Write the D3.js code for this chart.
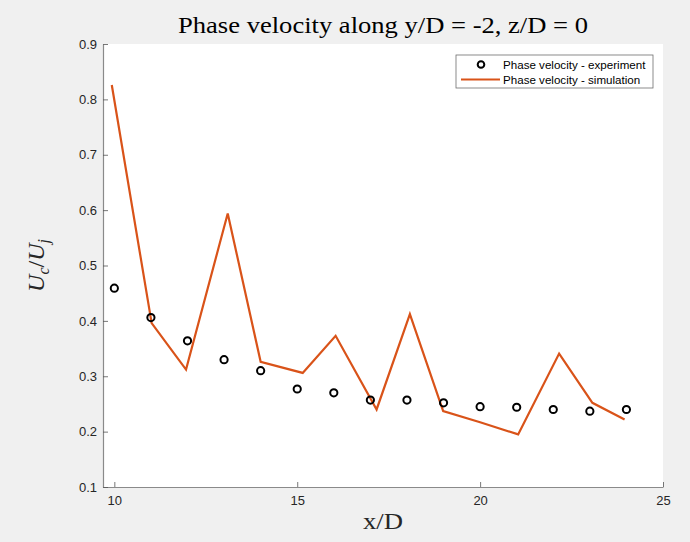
<!DOCTYPE html>
<html>
<head>
<meta charset="utf-8">
<script src="https://cdn.jsdelivr.net/npm/d3@7"></script>
<style>
  html, body { margin: 0; padding: 0; background: #f0f0f0; }
  svg { display: block; }
</style>
</head>
<body>
<svg id="chart" width="690" height="542"></svg>
<script>
// Measured phase velocity (x/D stations)
const expX = [10, 11, 12, 13, 14, 15, 16, 17, 18, 19, 20, 21, 22, 23, 24];
const expU = [0.459, 0.406, 0.364, 0.330, 0.310, 0.277, 0.270, 0.257, 0.257, 0.252, 0.245, 0.244, 0.240, 0.237, 0.240];

// Simulated phase velocity
const simX = [9.93, 11.02, 11.96, 13.10, 14.0, 15.15, 16.05, 17.17, 18.08, 18.99, 20.0, 21.04, 22.16, 23.07, 23.95];
const simU = [0.826, 0.396, 0.312, 0.594, 0.326, 0.306, 0.373, 0.240, 0.412, 0.237, 0.217, 0.195, 0.341, 0.252, 0.222];

const xTicks = [10, 15, 20, 25];
const yTicks = [0.1, 0.2, 0.3, 0.4, 0.5, 0.6, 0.7, 0.8, 0.9];

const titleText = "Phase velocity along y/D = -2, z/D = 0";
const legendLabels = ["Phase velocity - experiment", "Phase velocity - simulation"];

const svg = d3.select("#chart");
const plot = { left: 103, right: 663, top: 44, bottom: 487 };

const x = d3.scaleLinear().domain([9.69, 25]).range([plot.left, plot.right]);
const y = d3.scaleLinear().domain([0.1, 0.9]).range([plot.bottom, plot.top]);

const simColor = "#d95319";
const axisColor = "#8a8a8a";
const tickText = "#262626";
const serif = "'Liberation Serif', 'DejaVu Serif', serif";
const sans = "'Liberation Sans', Arial, sans-serif";

// White axes area
svg.append("rect")
  .attr("x", plot.left).attr("y", plot.top)
  .attr("width", plot.right - plot.left).attr("height", plot.bottom - plot.top)
  .attr("fill", "#ffffff");

// Axes with inward ticks
const xAxis = svg.append("g")
  .attr("transform", `translate(0,${plot.bottom})`)
  .call(d3.axisBottom(x).tickValues(xTicks).tickSizeInner(-5).tickSizeOuter(0).tickPadding(9).tickFormat(d3.format("d")));
const yAxis = svg.append("g")
  .attr("transform", `translate(${plot.left},0)`)
  .call(d3.axisLeft(y).tickValues(yTicks).tickSizeInner(-5).tickSizeOuter(0).tickPadding(6).tickFormat(d3.format(".1f")));

[xAxis, yAxis].forEach(g => {
  g.select(".domain").attr("stroke", axisColor).attr("stroke-width", 1.2);
  g.selectAll(".tick line").attr("stroke", "#555").attr("stroke-width", 0.8);
  g.selectAll(".tick text")
    .attr("fill", tickText)
    .style("font-family", sans)
    .style("font-size", "13px");
});

// Simulation line
svg.append("path")
  .datum(simX.map((d, i) => [d, simU[i]]))
  .attr("fill", "none")
  .attr("stroke", simColor)
  .attr("stroke-width", 2.2)
  .attr("stroke-linejoin", "miter")
  .attr("d", d3.line().x(d => x(d[0])).y(d => y(d[1])));

// Experiment markers
svg.append("g").selectAll("circle")
  .data(expX.map((d, i) => [d, expU[i]]))
  .join("circle")
  .attr("cx", d => x(d[0]))
  .attr("cy", d => y(d[1]))
  .attr("r", 3.6)
  .attr("fill", "none")
  .attr("stroke", "#000")
  .attr("stroke-width", 2);

// Title
svg.append("text")
  .attr("x", (plot.left + plot.right) / 2)
  .attr("y", 33)
  .attr("text-anchor", "middle")
  .attr("textLength", 410)
  .attr("lengthAdjust", "spacingAndGlyphs")
  .style("font-family", serif)
  .style("font-size", "23px")
  .attr("fill", "#000")
  .text(titleText);

// Axis labels
svg.append("text")
  .attr("x", (plot.left + plot.right) / 2)
  .attr("y", 529)
  .attr("text-anchor", "middle")
  .attr("textLength", 40)
  .attr("lengthAdjust", "spacingAndGlyphs")
  .style("font-family", serif)
  .style("font-size", "23px")
  .attr("fill", "#262626")
  .text("x/D");

const yl = svg.append("text")
  .attr("transform", `translate(44,${(plot.top + plot.bottom) / 2}) rotate(-90)`)
  .attr("text-anchor", "middle")
  .style("font-family", serif)
  .style("font-size", "24px")
  .style("font-style", "italic")
  .attr("fill", "#262626");
yl.append("tspan").text("U");
yl.append("tspan").attr("dy", 5).style("font-size", "16px").text("c");
yl.append("tspan").attr("dy", -5).style("font-style", "normal").text("/");
yl.append("tspan").text("U");
yl.append("tspan").attr("dy", 5).style("font-size", "16px").text("j");

// Legend
const lg = svg.append("g");
lg.append("rect")
  .attr("x", 456).attr("y", 55).attr("width", 197).attr("height", 33)
  .attr("fill", "#fff").attr("stroke", "#6e6e6e").attr("stroke-width", 0.8);
lg.append("circle")
  .attr("cx", 481).attr("cy", 64.5).attr("r", 3.3)
  .attr("fill", "none").attr("stroke", "#000").attr("stroke-width", 2);
lg.append("line")
  .attr("x1", 461).attr("x2", 500).attr("y1", 79.5).attr("y2", 79.5)
  .attr("stroke", simColor).attr("stroke-width", 2.2);
lg.selectAll("text.leg")
  .data(legendLabels)
  .join("text")
  .attr("class", "leg")
  .attr("x", 503)
  .attr("y", (d, i) => 68.5 + i * 15)
  .style("font-family", sans)
  .style("font-size", "11.6px")
  .attr("fill", "#000")
  .text(d => d);
</script>
</body>
</html>
